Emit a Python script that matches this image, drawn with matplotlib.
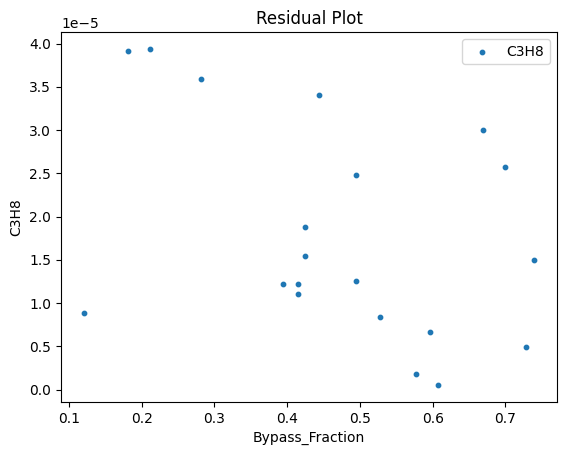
import numpy as np
import matplotlib.pyplot as plt

# values
bypass_fraction = [0.120, 0.181, 0.211, 0.282, 0.444, 0.495, 0.424, 0.424,
                   0.394, 0.415, 0.415, 0.495, 0.527, 0.577, 0.596, 0.607,
                   0.669, 0.699, 0.729, 0.740]
c3h8_resid = [0.88, 3.92, 3.94, 3.59, 3.41, 2.48, 1.88, 1.54,
              1.22, 1.22, 1.11, 1.26, 0.835, 0.174, 0.66, 0.05,
              3.00, 2.57, 0.487, 1.50]

x = np.array(bypass_fraction)
y = np.array(c3h8_resid) * 1e-5

fig = plt.figure(figsize=(5.67, 4.55), dpi=100)
ax = fig.add_axes([61 / 567, 53 / 455, 496 / 567, 370 / 455])
ax.scatter(x, y, s=10, label="C3H8")
ax.set_xlabel("Bypass_Fraction")
ax.set_ylabel("C3H8")
ax.set_title("Residual Plot")
ax.legend()

fig.savefig("out.png", dpi=100)
